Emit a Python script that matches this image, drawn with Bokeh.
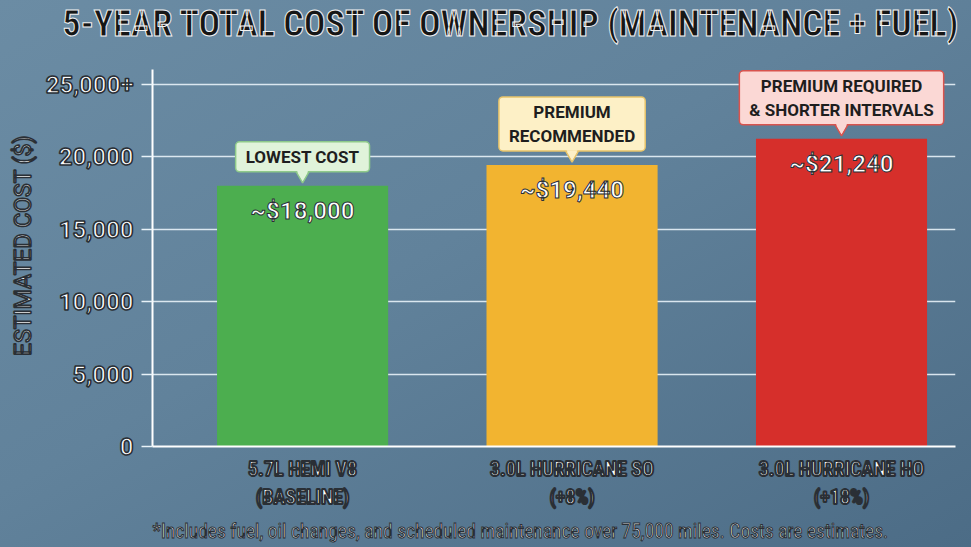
from bokeh.plotting import figure
from bokeh.models import Range1d, FixedTicker, Label, Title
from bokeh.core.properties import value
from bokeh.embed import file_html
from bokeh.resources import INLINE

# ---- data ----
engines = ["5.7L HEMI V8\n(BASELINE)", "3.0L HURRICANE SO\n(+8%)", "3.0L HURRICANE HO\n(+18%)"]
costs = [18000, 19440, 21240]
cost_labels = ["~$18,000", "~$19,440", "~$21,240"]
callouts = ["LOWEST COST", "PREMIUM\nRECOMMENDED", "PREMIUM REQUIRED\n& SHORTER INTERVALS"]
y_ticks = [0, 5000, 10000, 15000, 20000, 25000]
y_tick_labels = ["0", "5,000", "10,000", "15,000", "20,000", "25,000+"]
title_text = "5-YEAR TOTAL COST OF OWNERSHIP (MAINTENANCE + FUEL)"
footnote = "*Includes fuel, oil changes, and scheduled maintenance over 75,000 miles. Costs are estimates."

# ---- styles ----
bar_colors = ["#4cae4f", "#f2b430", "#d62f2b"]
callout_fill = ["#e0f3da", "#fdf0c6", "#fbd8d5"]
callout_line = ["#8ec98a", "#e8c46a", "#d8534e"]
NARROW = "Liberation Sans Narrow, Roboto Condensed, DejaVu Sans Condensed, sans-serif"
OUT = "#2a2f35"

xs = list(range(len(costs)))

p = figure(width=971, height=547, x_range=Range1d(-0.557, 2.423), y_range=Range1d(0, 27755),
           output_backend="svg", toolbar_location=None,
           min_border_left=152, min_border_right=16, min_border_top=44, min_border_bottom=100)
p.styles = {"background-image": "linear-gradient(to bottom right, #6b8ca4 0%, #61829b 45%, #4c6c86 100%)"}
p.background_fill_color = None
p.border_fill_color = None
p.outline_line_color = None

# title
p.title.text = title_text
p.title.align = "left"
p.title.offset = -90
p.title.standoff = 0
p.title.text_font = NARROW
p.title.text_font_size = "36px"
p.title.text_font_style = "bold"
p.title.text_color = "#161616"
p.title.text_outline_color = "#f2f2f2"

# grid
p.xgrid.grid_line_color = None
p.ygrid.ticker = FixedTicker(ticks=y_ticks)
p.ygrid.grid_line_color = "#e8f2f8"
p.ygrid.grid_line_width = 1.6
p.ygrid.grid_line_alpha = 0.9

# y axis
p.yaxis.ticker = FixedTicker(ticks=y_ticks)
p.yaxis.bounds = (0, 26000)
p.yaxis.major_label_overrides = dict(zip(y_ticks, y_tick_labels))
p.yaxis.axis_line_color = "white"
p.yaxis.axis_line_width = 2
p.yaxis.major_tick_line_color = "#e8f2f8"
p.yaxis.major_tick_line_width = 1.6
p.yaxis.major_tick_out = 11
p.yaxis.major_tick_in = 0
p.yaxis.minor_tick_line_color = None
p.yaxis.major_label_standoff = 8
p.yaxis.major_label_text_font = "Roboto"
p.yaxis.major_label_text_font_size = "24px"
p.yaxis.major_label_text_font_style = "bold"
p.yaxis.major_label_text_color = "white"
p.yaxis.major_label_text_outline_color = OUT
p.yaxis.axis_label = "ESTIMATED COST ($)"
p.yaxis.axis_label_text_font = "Roboto"
p.yaxis.axis_label_text_font_size = "23px"
p.yaxis.axis_label_text_font_style = "normal"
p.yaxis.axis_label_text_color = "white"
p.yaxis.axis_label_text_outline_color = OUT
p.yaxis.axis_label_standoff = 6

# x axis
p.xaxis.ticker = FixedTicker(ticks=xs)
p.xaxis.major_label_overrides = dict(zip(xs, engines))
p.xaxis.axis_line_color = "white"
p.xaxis.axis_line_width = 2
p.xaxis.major_tick_line_color = None
p.xaxis.minor_tick_line_color = None
p.xaxis.major_label_standoff = 4
p.xaxis.major_label_text_font = NARROW
p.xaxis.major_label_text_font_size = "20px"
p.xaxis.major_label_text_font_style = "bold"
p.xaxis.major_label_text_color = "white"
p.xaxis.major_label_text_outline_color = OUT

# footnote
p.add_layout(Title(text=footnote, align="left", offset=0, text_font=NARROW, text_font_size="19.5px",
                   text_font_style="normal", text_color="white", text_outline_color=OUT,
                   standoff=10), "below")

# bars
p.vbar(x=xs, top=costs, width=0.635, fill_color=bar_colors, line_color=None)

# value labels inside bars
p.text(x=xs, y=costs, text=cost_labels, text_align="center", text_baseline="middle", y_offset=25,
       text_color="white", text_font=value("Roboto"), text_font_size="24px", text_font_style="bold",
       text_outline_color=OUT)

# callout pointers
ptr_y = [c + 800 for c in costs]
p.scatter(x=xs, y=ptr_y, marker="inverted_triangle", size=15, fill_color=callout_fill,
          line_color=callout_line, line_width=1.5)
cover = p.scatter(x=xs, y=ptr_y, marker="inverted_triangle", size=11, fill_color=callout_fill,
                  line_color=None)
cover.level = "overlay"

# callout boxes
for i, (txt, c) in enumerate(zip(callouts, costs)):
    p.add_layout(Label(x=xs[i], y=c, y_offset=14, text=txt, text_align="center", text_baseline="bottom",
                       text_font="Roboto", text_font_size="17px", text_font_style="bold", text_color="#1e1e1e",
                       background_fill_color=callout_fill[i], border_line_color=callout_line[i],
                       border_line_width=1.5, border_radius=4,
                       padding=dict(top=5, bottom=5, left=10, right=10)))

open("out.html", "w").write(file_html(p, INLINE))
